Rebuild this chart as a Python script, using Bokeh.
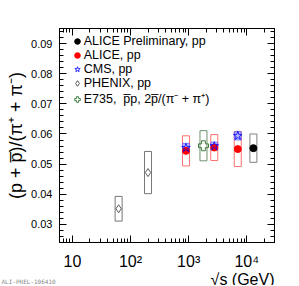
import math
from bokeh.plotting import figure
from bokeh.models import (Range1d, LinearAxis, LogAxis, FixedTicker, SingleIntervalTicker,
                          PrintfTickFormatter, Legend, LegendItem, Label, ColumnDataSource)
from bokeh.embed import file_html
from bokeh.resources import INLINE

# ---------------- data ----------------
prelim_sqrts = [13000]
prelim_ratio = [0.0553]
prelim_sys = [0.0047]

alice_sqrts = [900, 2760, 7000]
alice_ratio = [0.0544, 0.0555, 0.0550]
alice_sys = [0.0050, 0.0043, 0.0058]

cms_sqrts = [900, 2760, 7000]
cms_ratio = [0.0554, 0.0560, 0.0594]
cms_sys = [0.0015, 0.0013, 0.0014]

phenix_sqrts = [62.4, 200]
phenix_ratio = [0.0352, 0.0472]
phenix_sys = [0.0041, 0.0070]

e735_sqrts = [1800]
e735_ratio = [0.0561]
e735_sys = [0.0050]

x_major_ticks = [10, 100, 1000, 10000]
x_tick_labels = ["10", "10²", "10³", "10⁴"]

legend_labels = ["ALICE Preliminary, pp", "ALICE, pp", "CMS, pp", "PHENIX, pp",
                 "E735,  p\u0305p, 2p\u0305/(\u03c0\u207b + \u03c0\u207a)"]
y_title = "(p + p\u0305)/(\u03c0\u207a + \u03c0\u207b)"
x_title = "\u221as (GeV)"
watermark = "ALI-PREL-106410"

FONT = "Liberation Sans"
X_MIN, X_MAX = 6, 30000
Y_MIN, Y_MAX = 0.024, 0.095
FRAME_H = 214
PX_PER_Y = FRAME_H / (Y_MAX - Y_MIN)
PX_PER_DECADE = 215 / math.log10(X_MAX / X_MIN)


def src(xs, ys, sys):
    return ColumnDataSource(dict(x=xs, y=ys, h=[2 * s for s in sys]))


p = figure(width=290, height=285, x_axis_type="log",
           x_range=Range1d(X_MIN, X_MAX), y_range=Range1d(Y_MIN, Y_MAX),
           output_backend="svg", toolbar_location=None,
           min_border_left=59, min_border_right=16, min_border_top=28, min_border_bottom=43)
p.grid.visible = False
p.outline_line_color = "black"
p.outline_line_width = 1
p.background_fill_color = "white"
p.border_fill_color = "white"

minor_x = [m * 10 ** k for k in range(0, 5) for m in range(2, 10)]
xticker = FixedTicker(ticks=x_major_ticks, minor_ticks=minor_x)
yticker = SingleIntervalTicker(interval=0.01, num_minor_ticks=5)


def style_axis(ax, labels=True, size="11px"):
    ax.major_tick_in = 7
    ax.major_tick_out = 0
    ax.minor_tick_in = 4
    ax.minor_tick_out = 0
    ax.axis_line_color = "black"
    ax.major_tick_line_color = "black"
    ax.minor_tick_line_color = "black"
    ax.major_label_text_font = FONT
    if labels:
        ax.major_label_text_color = "black"
        ax.major_label_text_font_size = size
    else:
        ax.major_label_text_alpha = 0
        ax.major_label_text_font_size = "1px"
        ax.major_label_standoff = 0


xa = p.xaxis[0]
xa.ticker = xticker
xa.major_label_overrides = {t: l for t, l in zip(x_major_ticks, x_tick_labels)}
style_axis(xa, True, "16px")
xa.major_label_standoff = 10

ya = p.yaxis[0]
ya.ticker = yticker
ya.formatter = PrintfTickFormatter(format="%.2f")
style_axis(ya, True, "11px")
ya.major_label_standoff = 7
ya.axis_label = y_title
ya.axis_label_text_font = FONT
ya.axis_label_text_font_size = "18px"
ya.axis_label_text_font_style = "normal"
ya.axis_label_text_color = "black"
ya.axis_label_standoff = 2

top = LogAxis(ticker=xticker)
style_axis(top, False)
p.add_layout(top, "above")
right = LinearAxis(ticker=yticker)
style_axis(right, False)
p.add_layout(right, "right")

# systematic boxes
s_pre = src(prelim_sqrts, prelim_ratio, prelim_sys)
s_al = src(alice_sqrts, alice_ratio, alice_sys)
s_cms = src(cms_sqrts, cms_ratio, cms_sys)
s_ph = src(phenix_sqrts, phenix_ratio, phenix_sys)
s_e = src(e735_sqrts, e735_ratio, e735_sys)

p.rect(x="x", y="y", width=7, width_units="screen", height="h", source=s_ph,
       fill_color=None, line_color="#777777", line_width=1)
p.rect(x="x", y="y", width=7, width_units="screen", height="h", source=s_e,
       fill_color=None, line_color="#6f8f6f", line_width=1)
p.rect(x="x", y="y", width=7, width_units="screen", height="h", source=s_al,
       fill_color=None, line_color="#ff7070", line_width=1)
p.rect(x="x", y="y", width=7, width_units="screen", height="h", source=s_pre,
       fill_color=None, line_color="#808080", line_width=1)
p.rect(x="x", y="y", width=7, width_units="screen", height="h", source=s_cms,
       fill_color="#6060ff", fill_alpha=0.45, line_color="#6060ff", line_alpha=0.7, line_width=1)

# markers
r_ph = p.scatter(x="x", y="y", source=s_ph, marker="diamond", size=8,
                 fill_color=None, line_color="#333333", line_width=0.8)
r_e = p.scatter(x="x", y="y", source=s_e, marker="plus", size=10,
                fill_color=None, line_color="#3f7f3f", line_width=1)
r_al = p.scatter(x="x", y="y", source=s_al, marker="circle", size=7,
                 fill_color="red", line_color="red")
r_cms = p.scatter(x="x", y="y", source=s_cms, marker="star", size=9,
                  fill_color=None, line_color="blue", line_width=0.8)
r_pre = p.scatter(x="x", y="y", source=s_pre, marker="circle", size=7,
                  fill_color="black", line_color="black")

legend = Legend(items=[LegendItem(label=l, renderers=[r]) for l, r in
                       zip(legend_labels, [r_pre, r_al, r_cms, r_ph, r_e])],
                location=(10.7, 135), padding=0, margin=0, spacing=0,
                glyph_width=14, glyph_height=14, label_height=14, label_standoff=0,
                border_line_color=None, background_fill_alpha=0,
                label_text_font=FONT, label_text_font_size="12.5px",
                label_text_color="black")
p.add_layout(legend)

# axis title and watermark below the frame (pixel offsets converted to data units)
title_y = Y_MIN - 37 / PX_PER_Y
wm_y = Y_MIN - 39 / PX_PER_Y
wm_x = X_MIN * 10 ** (-58 / PX_PER_DECADE)
p.add_layout(Label(x=X_MAX, y=title_y, text=x_title,
                   text_align="right", text_baseline="middle",
                   text_font=FONT, text_font_size="16px", text_color="black"), "above")
p.add_layout(Label(x=wm_x, y=wm_y, text=watermark,
                   text_align="left", text_baseline="middle",
                   text_font="DejaVu Sans Mono", text_font_size="6px", text_color="#888888"), "below")

open("out.html", "w").write(file_html(p, INLINE))
